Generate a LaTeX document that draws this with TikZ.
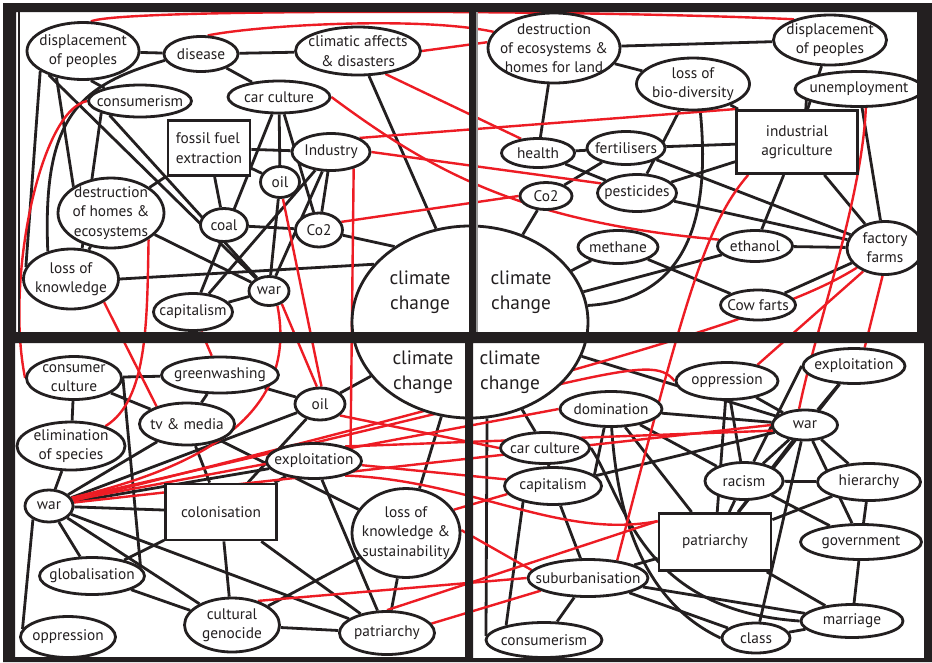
\documentclass[tikz,border=0pt]{standalone}
\usepackage{fontspec}
\setmainfont{PT Sans}
\usetikzlibrary{shapes.geometric}
\definecolor{Ink}{HTML}{231F20}
\definecolor{Hot}{HTML}{ED1C24}
\pgfdeclarelayer{back}
\pgfdeclarelayer{wires}
\pgfdeclarelayer{front}
\pgfsetlayers{back,wires,main,front}
\tikzset{
  bub/.style={ellipse,draw=Ink,line width=2.1pt,fill=white,inner sep=0pt},
  box/.style={rectangle,draw=Ink,line width=2.1pt,fill=white,inner sep=0pt},
  sz/.style 2 args={minimum width=#1*0.75pt,minimum height=#2*0.75pt},
  wire/.style={draw=Ink,line width=2.1pt},
  hot/.style={draw=Hot,line width=1.8pt},
  cctext/.style={align=center,inner sep=0pt,text=Ink,font=\fontsize{14.5}{19}\selectfont},
  every label/.style={align=center,inner sep=0pt,text=Ink},
}

\begin{document}
\begin{tikzpicture}[x=0.75pt,y=-0.75pt,font=\fontsize{11.5}{14.5}\selectfont]
  \begin{pgfonlayer}{back}
    \fill[white] (0,0) rectangle (932,662);
  \end{pgfonlayer}
  \useasboundingbox (0,0) rectangle (932,662);

  % top left
  \node[bub,sz={112}{57},label=center:{displacement\\of peoples}] (dispTL) at (83,51) {};
  \node[bub,sz={74}{35},label=center:disease] (disease) at (201,54) {};
  \node[bub,sz={125}{48},label=center:{climatic affects\\\& disasters}] (climatic) at (358,51) {};
  \node[bub,sz={103}{32},label=center:consumerism] (consTL) at (140,101) {};
  \node[bub,sz={102}{32},label=center:{car culture}] (carTL) at (279,97) {};
  \node[box,sz={82}{55},label={[align=left]center:{fossil fuel\\extraction}}] (fossil) at (209,148) {};
  \node[bub,sz={78}{37},label=center:Industry] (industry) at (331,152) {};
  \node[bub,sz={39}{31},label=center:oil] (oilTL) at (280,182) {};
  \node[bub,sz={106}{70},label=center:{destruction\\of homes \&\\ecosystems}] (destrTL) at (111,213) {};
  \node[bub,sz={47}{33},label=center:coal] (coal) at (224,225) {};
  \node[bub,sz={47}{34},label=center:Co2] (co2TL) at (319,230) {};
  \node[bub,sz={95}{60},label=center:{loss of\\knowledge}] (lokTL) at (71,279) {};
  \node[bub,sz={40}{29},label=center:war] (warTL) at (269,291) {};
  \node[bub,sz={79}{37},label=center:capitalism] (capTL) at (193,312) {};

  % the shared centre
  \node[bub,sz={236}{192}] (cc) at (470,322) {};
  \node[cctext] (ccTL) at (420,292) {climate\\change};
  \node[cctext] (ccTR) at (521,292) {climate\\change};
  \node[cctext] (ccBL) at (423,372) {climate\\change};
  \node[cctext] (ccBR) at (510,372) {climate\\change};

  % top right
  \node[bub,sz={132}{70},label=center:{destruction\\of ecosystems \&\\homes for land}] (destrTR) at (554,48) {};
  \node[bub,sz={113}{50},label=center:{displacement\\of peoples}] (dispTR) at (830,40) {};
  \node[bub,sz={113}{52},label=center:{loss of\\bio-diversity}] (biodiv) at (693,84) {};
  \node[bub,sz={128}{35},label=center:unemployment] (unemp) at (859,89) {};
  \node[box,sz={121}{63},label=center:{industrial\\agriculture}] (indag) at (797,142) {};
  \node[bub,sz={73}{29},label=center:health] (health) at (538,153) {};
  \node[bub,sz={78}{33},label=center:fertilisers] (fert) at (626,148) {};
  \node[bub,sz={79}{37},label=center:pesticides] (pest) at (637,193) {};
  \node[bub,sz={52}{27},label=center:Co2] (co2TR) at (546,196) {};
  \node[bub,sz={80}{33},label=center:methane] (methane) at (618,247) {};
  \node[bub,sz={75}{31},label=center:ethanol] (ethanol) at (755,246) {};
  \node[bub,sz={76}{53},label=center:{factory\\farms}] (ffarms) at (885,248) {};
  \node[bub,sz={75}{30},label=center:{Cow farts}] (cowf) at (758,305) {};

  % bottom left
  \node[bub,sz={95}{43},label=center:{consumer\\culture}] (concult) at (74,378) {};
  \node[bub,sz={117}{36},label=center:greenwashing] (green) at (220,375) {};
  \node[bub,sz={50}{32},label=center:oil] (oilBL) at (320,404) {};
  \node[bub,sz={95}{42},label=center:{tv \& media}] (tvmedia) at (187,424) {};
  \node[bub,sz={108}{48},label=center:{elimination\\of species}] (elim) at (71,446) {};
  \node[bub,sz={95}{35},label=center:exploitation] (explBL) at (314,461) {};
  \node[bub,sz={48}{32},label=center:war] (warBL) at (49,506) {};
  \node[box,sz={111}{56},label=center:colonisation] (colon) at (221,512) {};
  \node[bub,sz={108}{89},label=center:{loss of\\knowledge \&\\sustainability}] (loks) at (406,533) {};
  \node[bub,sz={105}{37},label=center:globalisation] (glob) at (92,576) {};
  \node[bub,sz={95}{54},label=center:{cultural\\genocide}] (cultgen) at (232,625) {};
  \node[bub,sz={95}{43},label=center:patriarchy] (patBL) at (387,633) {};
  \node[bub,sz={95}{41},label=center:oppression] (oppBL) at (68,637) {};

  % bottom right
  \node[bub,sz={102}{37},label=center:oppression] (oppBR) at (727,381) {};
  \node[bub,sz={102}{35},label=center:exploitation] (explBR) at (854,366) {};
  \node[bub,sz={102}{35},label=center:domination] (domin) at (611,409) {};
  \node[bub,sz={65}{30},label=center:war] (warBR) at (805,425) {};
  \node[bub,sz={89}{31},label=center:{car culture}] (carBR) at (545,448) {};
  \node[bub,sz={97}{37},label=center:capitalism] (capBR) at (553,486) {};
  \node[bub,sz={78}{37},label=center:racism] (racism) at (744,481) {};
  \node[bub,sz={103}{37},label=center:hierarchy] (hier) at (869,482) {};
  \node[box,sz={112}{57},label=center:patriarchy] (patBR) at (715,542) {};
  \node[bub,sz={121}{35},label=center:government] (govt) at (861,542) {};
  \node[bub,sz={120}{37},label=center:suburbanisation] (suburb) at (588,578) {};
  \node[bub,sz={102}{33},label=center:marriage] (marriage) at (852,621) {};
  \node[bub,sz={68}{30},label=center:class] (class) at (756,638) {};
  \node[bub,sz={116}{35},label=center:consumerism] (consBR) at (544,640) {};

  \begin{pgfonlayer}{wires}
    % black links inside each quarter
    \foreach \a/\b in {dispTL/disease,disease/climatic,disease/carTL,dispTL.285/consTL.160,dispTL.225/destrTL.145,
      dispTL.215/warTL,consTL.205/warTL,consTL.197/lokTL.70,dispTL.205/lokTL.165,fossil/destrTL,fossil/coal,
      fossil/industry,fossil/oilTL,carTL/oilTL,carTL/co2TL,carTL/capTL,oilTL/warTL,industry/capTL,industry/warTL,
      industry/co2TL,coal/co2TL,co2TL/cc.135,climatic/cc.110,destrTL/warTL,destrTL/lokTL,lokTL.east/cc.149,capTL/warTL}
      {\draw[wire] (\a)--(\b);}
    \draw[wire] (disease.190) .. controls (80,85) and (42,115) .. (lokTL.130);
    \foreach \a/\b in {destrTR/dispTR,destrTR/biodiv,destrTR/health,biodiv/indag,dispTR/indag,unemp.192/indag.75,
      unemp/ffarms,indag/ffarms,indag/ethanol,indag/fert,indag/pest,health/fert,health/pest,fert/co2TR,fert/ffarms,
      pest/ffarms,pest/biodiv,co2TR/cc,methane/cc,methane/cowf,ethanol/cc,ethanol/ffarms,cowf/ffarms}
      {\draw[wire] (\a)--(\b);}
    \draw[wire] (biodiv.285) .. controls (712,230) and (680,300) .. (cc.8);
    \foreach \a/\b in {concult/green,concult/tvmedia,concult/elim,concult.east/glob.10,green/tvmedia,green/oilBL,
      oilBL/cc,warBL/oilBL,warBL/explBL,warBL/tvmedia,oilBL/colon,tvmedia/colon,tvmedia/loks,elim/warBL,
      explBL/colon,explBL/patBL,warBL/colon,warBL/glob,warBL/cultgen,warBL/patBL,warBL.220/oppBL.170,
      colon/cultgen,colon/glob,colon/patBL,cc/loks,loks/cultgen,loks/patBL,glob/cultgen,cultgen/patBL}
      {\draw[wire] (\a)--(\b);}
    \foreach \a/\b in {cc/carBR,cc.280/consBR.176,cc/warBR,domin/warBR,domin/racism,domin.250/capBR.15,
      domin/patBR,oppBR/warBR,oppBR/racism,oppBR/patBR,explBR/warBR,explBR.west/racism,explBR/patBR,
      warBR/capBR,warBR/racism,warBR/hier,warBR/govt,warBR/patBR,warBR/class,carBR/capBR,capBR.208/consBR.159,
      capBR/suburb,racism/hier,racism/patBR,racism/govt,hier/patBR,hier/govt,govt/marriage,patBR/suburb,
      patBR/marriage,suburb/consBR,suburb/class,suburb/marriage,class/marriage}
      {\draw[wire] (\a)--(\b);}
    \draw[wire] (domin.272) .. controls (617,510) and (640,600) .. (class.west);
    \draw[wire] (carBR.east) .. controls (625,500) and (640,610) .. (marriage.west);

    % red links between the quarters
    \draw[hot] (dispTL.75) .. controls (120,8) and (600,10) .. (dispTR.150);
    \draw[hot] (disease.70) .. controls (260,25) and (420,16) .. (destrTR.165);
    \draw[hot] (climatic.east) -- (destrTR.175);
    \draw[hot] (climatic.320) -- (health.140);
    \draw[hot] (industry.north east) -- (indag.north west);
    \draw[hot] (industry.east) -- (pest.165);
    \draw[hot] (carTL.east) .. controls (430,170) and (520,222) .. (ethanol.170);
    \draw[hot] (co2TL.20) -- (co2TR.west);
    \draw[hot] (indag.214) .. controls (705,225) and (685,300) .. (suburb.31);
    \draw[hot] (unemp.290) .. controls (862,200) and (815,330) .. (warBR.110);
    \draw[hot] (ffarms.227) -- (oppBR.28);
    \draw[hot] (ffarms.265) -- (explBR.60);
    \draw[hot] (ffarms.215) .. controls (805,300) and (700,345) .. (warBL.12);
    \draw[hot] (consTL.west) .. controls (40,110) and (5,280) .. (concult.180);
    \draw[hot] (lokTL.325) -- (tvmedia.150);
    \draw[hot] (destrTL.325) .. controls (147,320) and (148,400) .. (elim.30);
    \draw[hot] (capTL) -- (green);
    \draw[hot] (warTL.300) .. controls (300,420) and (190,470) .. (warBL.20);
    \draw[hot] (warTL.315) -- (oilBL.100);
    \draw[hot] (oilTL.280) -- (oilBL.85);
    \draw[hot] (industry.324) -- (explBL.19);
    \draw[hot] (warBL.8) -- (warBR.west);
    \draw[hot] (warBL.14) -- (domin.west);
    \draw[hot] (warBL.18) .. controls (600,380) and (650,350) .. (oppBR.west);
    \draw[hot] (oilBL.330) -- (carBR.west);
    \draw[hot] (explBL.25) -- (warBR.190);
    \draw[hot] (explBL.355) -- (capBR.172);
    \draw[hot] (explBL.335) .. controls (470,480) and (560,540) .. (patBR.160);
    \draw[hot] (loks.26) -- (capBR.190);
    \draw[hot] (loks.3) -- (suburb.172);
    \draw[hot] (cultgen.43) -- (suburb.west);
    \draw[hot] (patBL.90) -- (patBR.160);
    \draw[hot] (patBL.12) -- (suburb.195);
  \end{pgfonlayer}

  \begin{pgfonlayer}{front}
    % frame and dividers
    \fill[Ink,even odd rule] (3,3) rectangle (932,662) (16,12) rectangle (469,332) (476,12) rectangle (917,332)
      (15,343) rectangle (465,657) (473,343) rectangle (924,658);
    \draw[Ink,line width=1.2pt] (19,12) -- (19,332);
    \draw[black!40,line width=1.2pt] (477,12) -- (477,332);
  \end{pgfonlayer}
\end{tikzpicture}
\end{document}
